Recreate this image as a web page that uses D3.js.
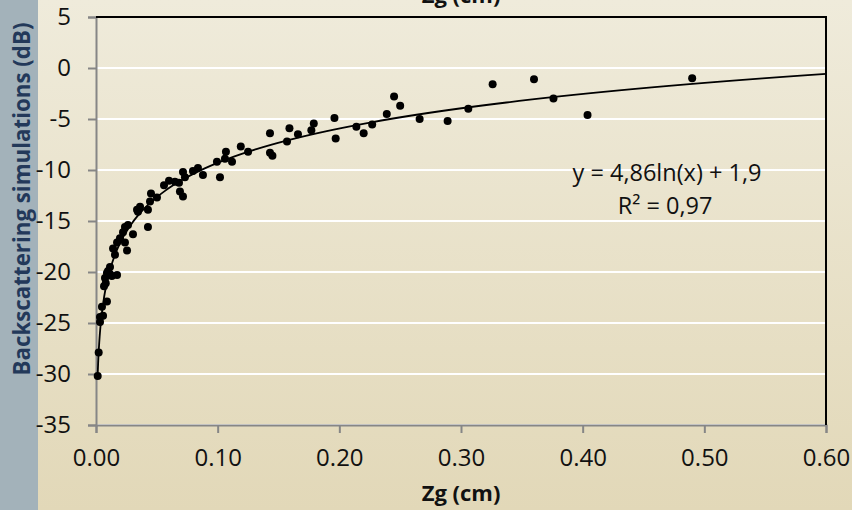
<!DOCTYPE html>
<html>
<head>
<meta charset="utf-8">
<script src="https://cdn.jsdelivr.net/npm/d3@7"></script>
<style>
  body { margin: 0; }
  svg { display: block; font-family: "Open Sans", sans-serif; }
  .tick text { font-size: 24px; fill: #111; }
</style>
</head>
<body>
<div id="chart"></div>
<script>
// data: roughness Zg (cm) and backscattering (dB)
var zg = [0.0014, 0.0022, 0.0033, 0.0033, 0.0058, 0.0049, 0.009, 0.0066, 0.0074, 0.008,
  0.009, 0.0099, 0.0115, 0.013, 0.0173, 0.0115, 0.0156, 0.014, 0.0255, 0.0173,
  0.0238, 0.0197, 0.0304, 0.0222, 0.0238, 0.0263, 0.0427, 0.0345, 0.0337, 0.0362,
  0.0427, 0.0444, 0.0452, 0.0501, 0.0559, 0.060, 0.0649, 0.0682, 0.069, 0.0715,
  0.0715, 0.0731, 0.0797, 0.0838, 0.0879, 0.0994, 0.1019, 0.106, 0.1068, 0.1118,
  0.119, 0.125, 0.143, 0.143, 0.145, 0.157, 0.159, 0.166, 0.177, 0.179,
  0.196, 0.197, 0.214, 0.220, 0.227, 0.239, 0.245, 0.250, 0.266, 0.289,
  0.306, 0.326, 0.360, 0.376, 0.404, 0.490];
var backscatter = [-30.2, -27.9, -24.9, -24.4, -24.3, -23.4, -22.9, -21.4, -20.6, -21.1,
  -20.1, -19.9, -20.2, -20.4, -20.3, -19.5, -18.3, -17.7, -17.9, -17.1,
  -17.1, -16.7, -16.3, -16.1, -15.6, -15.4, -15.6, -14.1, -13.9, -13.6,
  -13.9, -13.1, -12.3, -12.7, -11.5, -11.05, -11.15, -11.25, -12.1, -12.6,
  -10.2, -10.7, -10.1, -9.8, -10.5, -9.2, -10.7, -8.9, -8.2, -9.2,
  -7.7, -8.2, -6.4, -8.3, -8.6, -7.2, -5.9, -6.5, -6.1, -5.45,
  -4.9, -6.9, -5.75, -6.4, -5.55, -4.5, -2.8, -3.7, -5.0, -5.2,
  -4.0, -1.6, -1.1, -3.0, -4.6, -1.0];

// logarithmic trend line shown on the chart: y = a ln(x) + b
var trendA = 4.86;
var trendB = 1.9;

var yTicks = [5, 0, -5, -10, -15, -20, -25, -30, -35];
var xTicks = [0, 0.1, 0.2, 0.3, 0.4, 0.5, 0.6];

var width = 852;
var height = 510;
var plotLeft = 96, plotRight = 826, plotTop = 17, plotBottom = 425;

var svg = d3.select("#chart")
    .append("svg")
    .attr("width", width)
    .attr("height", height);

// background gradient + the grey strip behind the y label
var defs = svg.append("defs");
var grad = defs.append("linearGradient")
    .attr("id", "bg")
    .attr("x1", 0).attr("y1", 0).attr("x2", 0).attr("y2", 1);
grad.append("stop").attr("offset", "0%").attr("stop-color", "#efebdb");
grad.append("stop").attr("offset", "100%").attr("stop-color", "#e2d8b8");

svg.append("rect")
    .attr("width", width).attr("height", height)
    .attr("fill", "url(#bg)");
svg.append("rect")
    .attr("width", 38).attr("height", height)
    .attr("fill", "#a3b2ba");

var x = d3.scaleLinear()
    .domain([0, 0.6])
    .range([plotLeft, plotRight]);

var y = d3.scaleLinear()
    .domain([-35, 5])
    .range([plotBottom, plotTop]);

// white gridlines
svg.append("g")
    .selectAll("line")
    .data(yTicks)
    .join("line")
    .attr("x1", plotLeft).attr("x2", plotRight)
    .attr("y1", d => y(d)).attr("y2", d => y(d))
    .attr("stroke", "#fff")
    .attr("stroke-width", 2);

// axes
var yAxis = svg.append("g")
    .attr("transform", "translate(" + plotLeft + ",0)")
    .call(d3.axisLeft(y).tickValues(yTicks).tickSize(8).tickPadding(17).tickFormat(d3.format("d")));

var xAxis = svg.append("g")
    .attr("transform", "translate(0," + plotBottom + ")")
    .call(d3.axisBottom(x).tickValues(xTicks).tickSize(8).tickPadding(16).tickFormat(d3.format(".2f")));

[yAxis, xAxis].forEach(function(a) {
  a.select(".domain").attr("stroke", "#868686").attr("stroke-width", 2);
  a.selectAll(".tick line").attr("stroke", "#868686").attr("stroke-width", 2);
  a.attr("font-family", null).attr("font-size", null);
});
yAxis.selectAll(".tick text").text(d => d < 0 ? "-" + Math.abs(d) : d);

// top and right frame lines
svg.append("path")
    .attr("d", "M" + plotLeft + "," + plotTop + "H" + plotRight + "V" + plotBottom)
    .attr("fill", "none")
    .attr("stroke", "#000")
    .attr("stroke-width", 2);

// trend line
var xMin = d3.min(zg);
var trendX = d3.range(0, 201).map(i => xMin * Math.pow(0.6 / xMin, i / 200));
svg.append("path")
    .datum(trendX)
    .attr("fill", "none")
    .attr("stroke", "#000")
    .attr("stroke-width", 1.8)
    .attr("d", d3.line()
        .x(d => x(d))
        .y(d => y(trendA * Math.log(d) + trendB)));

// points
svg.append("g")
    .selectAll("circle")
    .data(zg)
    .join("circle")
    .attr("cx", d => x(d))
    .attr("cy", (d, i) => y(backscatter[i]))
    .attr("r", 4)
    .attr("fill", "#000");

// equation
svg.append("text")
    .attr("x", 667).attr("y", 181)
    .attr("text-anchor", "middle")
    .style("font-size", "23.5px")
    .attr("fill", "#111")
    .text("y = 4,86ln(x) + 1,9");
svg.append("text")
    .attr("x", 665).attr("y", 214)
    .attr("text-anchor", "middle")
    .style("font-size", "23.5px")
    .attr("fill", "#111")
    .text("R² = 0,97");

// axis titles
svg.append("text")
    .attr("x", 461).attr("y", 3)
    .attr("text-anchor", "middle")
    .style("font-size", "22px")
    .style("font-weight", "bold")
    .attr("fill", "#111")
    .text("Zg (cm)");

svg.append("text")
    .attr("x", 461).attr("y", 501)
    .attr("text-anchor", "middle")
    .style("font-size", "22px")
    .style("font-weight", "bold")
    .attr("fill", "#111")
    .text("Zg (cm)");

svg.append("text")
    .attr("transform", "translate(30,199) rotate(-90)")
    .attr("text-anchor", "middle")
    .style("font-size", "22.3px")
    .style("font-weight", "bold")
    .attr("fill", "#23395a")
    .text("Backscattering simulations (dB)");
</script>
</body>
</html>
